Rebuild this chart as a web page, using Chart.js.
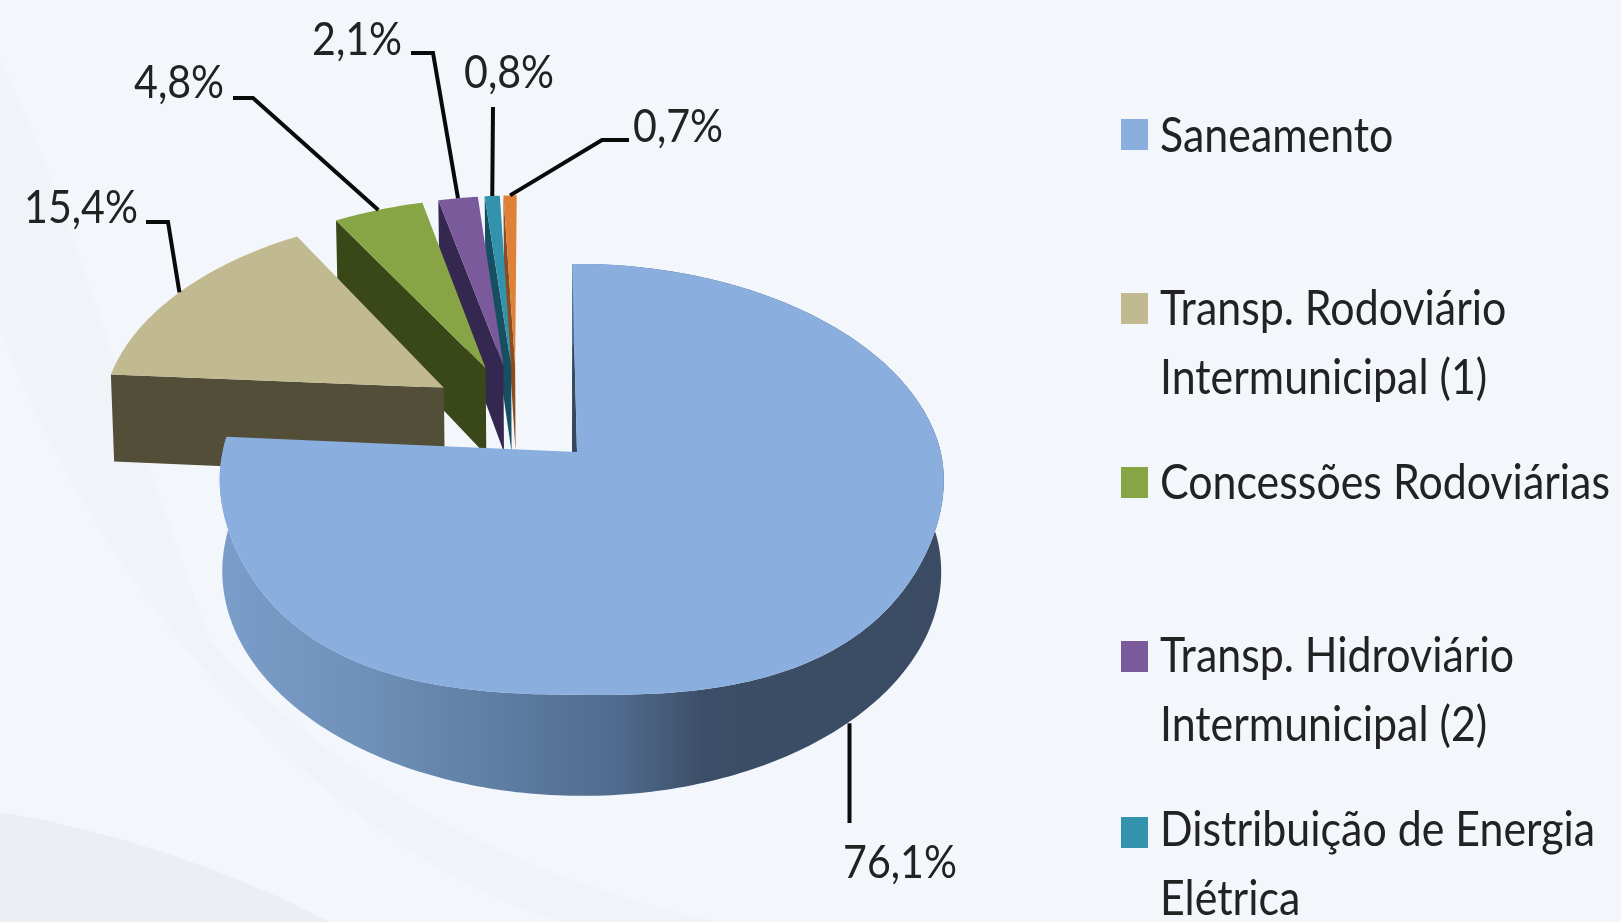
<!DOCTYPE html>
<html><head><meta charset="utf-8">
<style>html,body{margin:0;padding:0;background:#f3f7fc;overflow:hidden}
#wrap{width:1621px;height:922px;position:relative}canvas{display:block;filter:blur(0.6px)}</style>
<script src="https://cdn.jsdelivr.net/npm/chart.js@4"></script></head>
<body><div id="wrap"><canvas id="c" width="1621" height="922"></canvas></div>
<script>
const categories = ['Saneamento','Transp. Rodoviário Intermunicipal (1)','Concessões Rodoviárias','Transp. Hidroviário Intermunicipal (2)','Distribuição de Energia Elétrica','Outros'];
const values = [76.1,15.4,4.8,2.1,0.8,0.7];
const topColors = ['#8aaedd','#c1b98f','#87a545','#7a5a9a','#3393ad','#e08138'];
const wallColors = ['#3a4b63','#534e38','#3a4718','#352850','#174f62','#8a4d20'];
const legendLines = [['Saneamento'],['Transp. Rodoviário','Intermunicipal (1)'],['Concessões Rodoviárias'],['Transp. Hidroviário','Intermunicipal (2)'],['Distribuição de Energia','Elétrica']];
const legendSwatchY = [119,293,467,641,817];
const legendBaselines = [[152],[325,394],[499],[672,741],[846,915]];
const labelPos = [[843,878],[24,223],[134,98],[312,55],[464,88],[633,142]];
const leaderBends = [[[849.5,823]],[[168,222],[146,222]],[[253,98],[233,98]],[[433,53],[411,53]],[[493,107]],[[602,140],[629,140]]];
const FONT='Lato, "Open Sans", sans-serif';
const K=0.127,J=0.013,YR=212/359,DEPTH=91,DEPTH_Y=10,SHRINK=0.993,SHEAR=4.8,SQUIRCLE=2.5;

function projector(meta){
  const a0=meta.data[0];
  const R=a0.outerRadius, m0=(a0.startAngle+a0.endAngle)/2, o0=a0.options.offset/R;
  const Ox=o0*Math.cos(m0), Oy=o0*Math.sin(m0);
  const cx=a0.x, cy=a0.y;
  return function(arc,ang,rho,z){
    const m=(arc.startAngle+arc.endAngle)/2, o=arc.options.offset/R;
    const ca=Math.cos(ang), sa=Math.sin(ang);
    if(!z && sa>0 && rho>0){
      const f=1/Math.pow(Math.pow(Math.abs(ca),SQUIRCLE)+Math.pow(sa,SQUIRCLE),1/SQUIRCLE);
      rho*=1+(f-1)*sa*sa;
    }
    const X=rho*ca+o*Math.cos(m)-Ox, Y=rho*sa+o*Math.sin(m)-Oy;
    const s=1/(1-K*Y-J*X);
    let x=cx+R*X*s, y=cy+R*YR*Y*s;
    if(Y<0) x+=SHEAR*Y;
    if(z){ x=cx+4+(x-cx-4)*SHRINK; y+=DEPTH+DEPTH_Y*Y; }
    return [x,y];
  };
}
function poly(ctx,pts,fill){ctx.beginPath();pts.forEach((p,i)=>i?ctx.lineTo(p[0],p[1]):ctx.moveTo(p[0],p[1]));ctx.closePath();ctx.fillStyle=fill;ctx.fill();}
function scaledText(ctx,t,x,y,sx){ctx.save();ctx.translate(x,y);ctx.scale(sx,1);ctx.fillText(t,0,0);ctx.restore();}

const pie3d={id:'pie3d',
  beforeDraw(chart){
    const ctx=chart.ctx;ctx.save();
    ctx.fillStyle='#f3f7fc';ctx.fillRect(0,0,1621,922);
    ctx.fillStyle='#f0f3f8';
    ctx.beginPath();ctx.moveTo(0,60);ctx.bezierCurveTo(70,200,130,420,210,640);ctx.bezierCurveTo(330,780,520,880,720,922);ctx.lineTo(560,922);ctx.bezierCurveTo(360,860,120,640,0,330);ctx.closePath();ctx.fill();
    ctx.fillStyle='#ebeef2';
    ctx.beginPath();ctx.moveTo(0,812);ctx.bezierCurveTo(110,830,230,870,330,922);ctx.lineTo(0,922);ctx.closePath();ctx.fill();
    ctx.restore();
  },
  beforeDatasetsDraw(chart){
    const ctx=chart.ctx, meta=chart.getDatasetMeta(0), P=projector(meta);
    ctx.save();
    for(let i=meta.data.length-1;i>=0;i--){
      const arc=meta.data[i], n=Math.max(8,Math.ceil((arc.endAngle-arc.startAngle)*60));
      const rimTop=[],rimBot=[];
      for(let t=0;t<=n;t++){const a=arc.startAngle+(arc.endAngle-arc.startAngle)*t/n;rimTop.push(P(arc,a,1,false));rimBot.push(P(arc,a,1,true));}
      const apexT=P(arc,0,0,false),apexB=P(arc,0,0,true);
      if(i===0){const g=ctx.createLinearGradient(220,0,944,0);
        g.addColorStop(0,'#7a9dca');g.addColorStop(.2,'#6f90b8');g.addColorStop(.4,'#5d7ca1');g.addColorStop(.55,'#506b8d');g.addColorStop(.67,'#3c4e67');g.addColorStop(1,'#3a4b63');
        poly(ctx,[rimTop[0],[apexT[0]-5,apexT[1]],apexT],'#34475f');
        poly(ctx,rimTop.concat(rimBot.slice().reverse()),g);
      } else {
        poly(ctx,[apexT,rimTop[0],rimBot[0],apexB],wallColors[i]);
      }
      poly(ctx,[apexT].concat(rimTop),arc.options.backgroundColor);
    }
    ctx.restore();
    return false;
  },
  afterDraw(chart){
    const ctx=chart.ctx, meta=chart.getDatasetMeta(0), P=projector(meta);
    ctx.save();
    ctx.fillStyle='#222';ctx.strokeStyle='#0a0a0a';ctx.lineWidth=4;ctx.lineJoin='miter';
    ctx.textAlign='left';ctx.textBaseline='alphabetic';
    ctx.font='47px '+FONT;
    const sx=114/ctx.measureText('15,4%').width;
    meta.data.forEach((arc,i)=>{
      const m=(arc.startAngle+arc.endAngle)/2;
      const s=P(arc,m,1,i===0);
      if(i===0) s[0]=leaderBends[0][0][0];
      ctx.beginPath();ctx.moveTo(s[0],s[1]);
      leaderBends[i].forEach(p=>ctx.lineTo(p[0],p[1]));
      ctx.stroke();
      scaledText(ctx,values[i].toFixed(1).replace('.',',')+'%',labelPos[i][0],labelPos[i][1],sx);
    });
    ctx.font='48px '+FONT;
    const lx=450/ctx.measureText('Concessões Rodoviárias').width;
    legendLines.forEach((lines,i)=>{
      ctx.fillStyle=topColors[i];ctx.fillRect(1121,legendSwatchY[i],27,31);
      ctx.fillStyle='#222';
      lines.forEach((t,j)=>scaledText(ctx,t,1160,legendBaselines[i][j],lx));
    });
    ctx.restore();
  }
};
new Chart(document.getElementById('c'),{
  type:'pie',
  data:{labels:categories,datasets:[{data:values,backgroundColor:topColors,borderWidth:0,offset:90,radius:359}]},
  options:{responsive:false,animation:false,events:[],
    layout:{padding:{left:0,top:0,right:467,bottom:18}},
    plugins:{legend:{display:false},tooltip:{enabled:false},title:{display:false}}},
  plugins:[pie3d]
});
</script></body></html>
